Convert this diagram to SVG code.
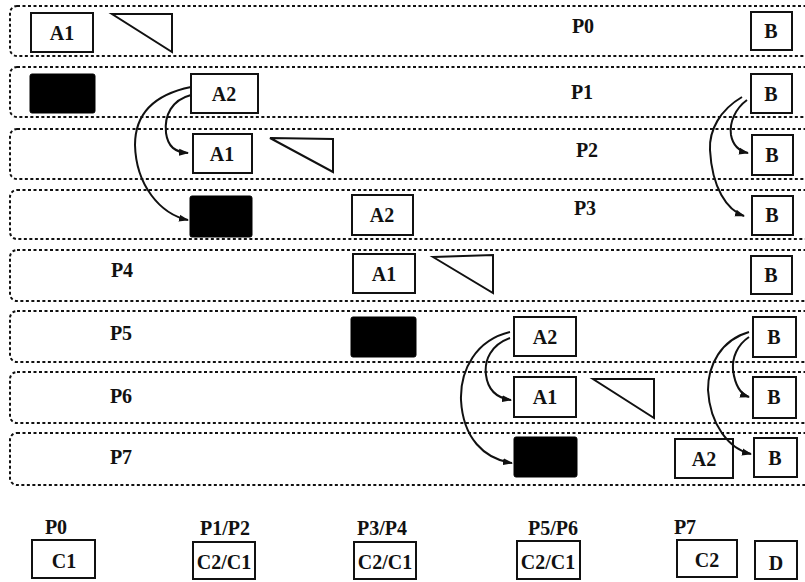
<svg xmlns="http://www.w3.org/2000/svg" width="805" height="582" viewBox="0 0 805 582">
  <style>
    .lane { fill: none; stroke: #111; stroke-width: 2; stroke-dasharray: 3 2.5; }
    .box { fill: #fff; stroke: #111; stroke-width: 2; }
    .blk { fill: #000; stroke: #000; stroke-width: 1; }
    .tri { fill: none; stroke: #111; stroke-width: 2; stroke-linejoin: miter; }
    .t { font-family: "Liberation Serif", "Times New Roman", serif; font-weight: bold; font-size: 20px; fill: #111; text-anchor: middle; }
    .arc { fill: none; stroke: #111; stroke-width: 2; marker-end: url(#ah); }
  </style>
  <defs>
    <marker id="ah" markerUnits="userSpaceOnUse" markerWidth="10" markerHeight="8" refX="9" refY="4" orient="auto">
      <path d="M0,0.5 L10,4 L0,7.5 z" fill="#111"/>
    </marker>
  </defs>
  <rect width="805" height="582" fill="#fff"/>

  <!-- processor lanes -->
  <g id="lanes">
    <rect class="lane" x="10" y="6" width="810" height="50" rx="7"/>
    <rect class="lane" x="10" y="67" width="810" height="50" rx="7"/>
    <rect class="lane" x="10" y="129" width="810" height="50" rx="7"/>
    <rect class="lane" x="10" y="190" width="810" height="49" rx="7"/>
    <rect class="lane" x="10" y="250" width="810" height="51" rx="7"/>
    <rect class="lane" x="10" y="311" width="810" height="51" rx="7"/>
    <rect class="lane" x="10" y="372" width="810" height="51" rx="7"/>
    <rect class="lane" x="10" y="433" width="810" height="52" rx="7"/>
  </g>

  <!-- lane labels -->
  <g id="lane-labels">
    <text class="t" x="583" y="33">P0</text>
    <text class="t" x="582" y="99">P1</text>
    <text class="t" x="587" y="157">P2</text>
    <text class="t" x="585" y="215">P3</text>
    <text class="t" x="122" y="277">P4</text>
    <text class="t" x="121" y="340">P5</text>
    <text class="t" x="121" y="403">P6</text>
    <text class="t" x="121" y="464">P7</text>
  </g>

  <!-- lane 0 -->
  <g id="a1-p0"><rect class="box" x="31" y="13" width="62" height="39"/><text class="t" x="62" y="40">A1</text></g>
  <g id="tri-p0"><path class="tri" d="M112,14 L172,14 L172,52 Z"/></g>
  <g id="b-p0"><rect class="box" x="751" y="12" width="41" height="38"/><text class="t" x="771" y="38">B</text></g>

  <!-- lane 1 -->
  <g id="blk-p1"><rect class="blk" x="30" y="74" width="65" height="39" rx="2"/></g>
  <g id="a2-p1"><rect class="box" x="191" y="74" width="67" height="39"/><text class="t" x="224" y="101">A2</text></g>
  <g id="b-p1"><rect class="box" x="751" y="74" width="41" height="39"/><text class="t" x="771" y="101">B</text></g>

  <!-- lane 2 -->
  <g id="a1-p2"><rect class="box" x="193" y="134" width="59" height="39"/><text class="t" x="222" y="161">A1</text></g>
  <g id="tri-p2"><path class="tri" d="M270,138 L333,139 L333,172 Z"/></g>
  <g id="b-p2"><rect class="box" x="752" y="135" width="41" height="40"/><text class="t" x="772" y="162">B</text></g>

  <!-- lane 3 -->
  <g id="blk-p3"><rect class="blk" x="190" y="196" width="62" height="41" rx="2"/></g>
  <g id="a2-p3"><rect class="box" x="352" y="195" width="61" height="40"/><text class="t" x="382" y="222">A2</text></g>
  <g id="b-p3"><rect class="box" x="752" y="196" width="41" height="39"/><text class="t" x="772" y="222">B</text></g>

  <!-- lane 4 -->
  <g id="a1-p4"><rect class="box" x="353" y="254" width="62" height="39"/><text class="t" x="384" y="281">A1</text></g>
  <g id="tri-p4"><path class="tri" d="M433,257 L493,255 L493,293 Z"/></g>
  <g id="b-p4"><rect class="box" x="751" y="256" width="41" height="38"/><text class="t" x="771" y="282">B</text></g>

  <!-- lane 5 -->
  <g id="blk-p5"><rect class="blk" x="351" y="317" width="65" height="40" rx="2"/></g>
  <g id="a2-p5"><rect class="box" x="514" y="317" width="62" height="39"/><text class="t" x="545" y="344">A2</text></g>
  <g id="b-p5"><rect class="box" x="753" y="317" width="43" height="40"/><text class="t" x="774" y="344">B</text></g>

  <!-- lane 6 -->
  <g id="a1-p6"><rect class="box" x="514" y="377" width="62" height="40"/><text class="t" x="545" y="404">A1</text></g>
  <g id="tri-p6"><path class="tri" d="M593,379 L654,379 L654,418 Z"/></g>
  <g id="b-p6"><rect class="box" x="753" y="377" width="43" height="41"/><text class="t" x="774" y="404">B</text></g>

  <!-- lane 7 -->
  <g id="blk-p7"><rect class="blk" x="514" y="437" width="63" height="40" rx="2"/></g>
  <g id="a2-p7"><rect class="box" x="675" y="439" width="58" height="39"/><text class="t" x="704" y="466">A2</text></g>
  <g id="b-p7"><rect class="box" x="754" y="438" width="43" height="39"/><text class="t" x="775" y="465">B</text></g>

  <!-- transfers -->
  <g id="connectors">
    <path class="arc" d="M191,95 C172,100 164,115 166,133 C168,147 175,152 188,153"/>
    <path class="arc" d="M191,87 C152,95 135,115 135,145 C136,185 160,214 188,220"/>
    <path class="arc" d="M747,100 C736,108 729,122 731,135 C733,146 739,151 748,153"/>
    <path class="arc" d="M742,97 C720,110 709,130 710,150 C712,188 727,210 744,216"/>
    <path class="arc" d="M510,338 C491,345 484,360 486,375 C488,391 497,398 511,400"/>
    <path class="arc" d="M510,332 C476,340 460,370 461,400 C463,438 484,459 512,463"/>
    <path class="arc" d="M749,337 C737,345 732,358 733,370 C735,385 740,394 749,397"/>
    <path class="arc" d="M749,332 C721,340 708,365 708,390 C710,425 729,449 751,454"/>
  </g>

  <!-- cluster row -->
  <g id="c-p0"><text class="t" x="56" y="534">P0</text><rect class="box" x="32" y="540" width="63" height="38"/><text class="t" x="64" y="568">C1</text></g>
  <g id="c-p1p2"><text class="t" x="225" y="535">P1/P2</text><rect class="box" x="193" y="542" width="62" height="37"/><text class="t" x="224" y="569">C2/C1</text></g>
  <g id="c-p3p4"><text class="t" x="382" y="535">P3/P4</text><rect class="box" x="354" y="542" width="62" height="37"/><text class="t" x="385" y="569">C2/C1</text></g>
  <g id="c-p5p6"><text class="t" x="553" y="535">P5/P6</text><rect class="box" x="517" y="541" width="63" height="38"/><text class="t" x="548" y="569">C2/C1</text></g>
  <g id="c-p7"><text class="t" x="685" y="534">P7</text><rect class="box" x="677" y="540" width="60" height="37"/><text class="t" x="707" y="567">C2</text></g>
  <g id="d"><rect class="box" x="755" y="541" width="42" height="38"/><text class="t" x="776" y="570">D</text></g>
</svg>
